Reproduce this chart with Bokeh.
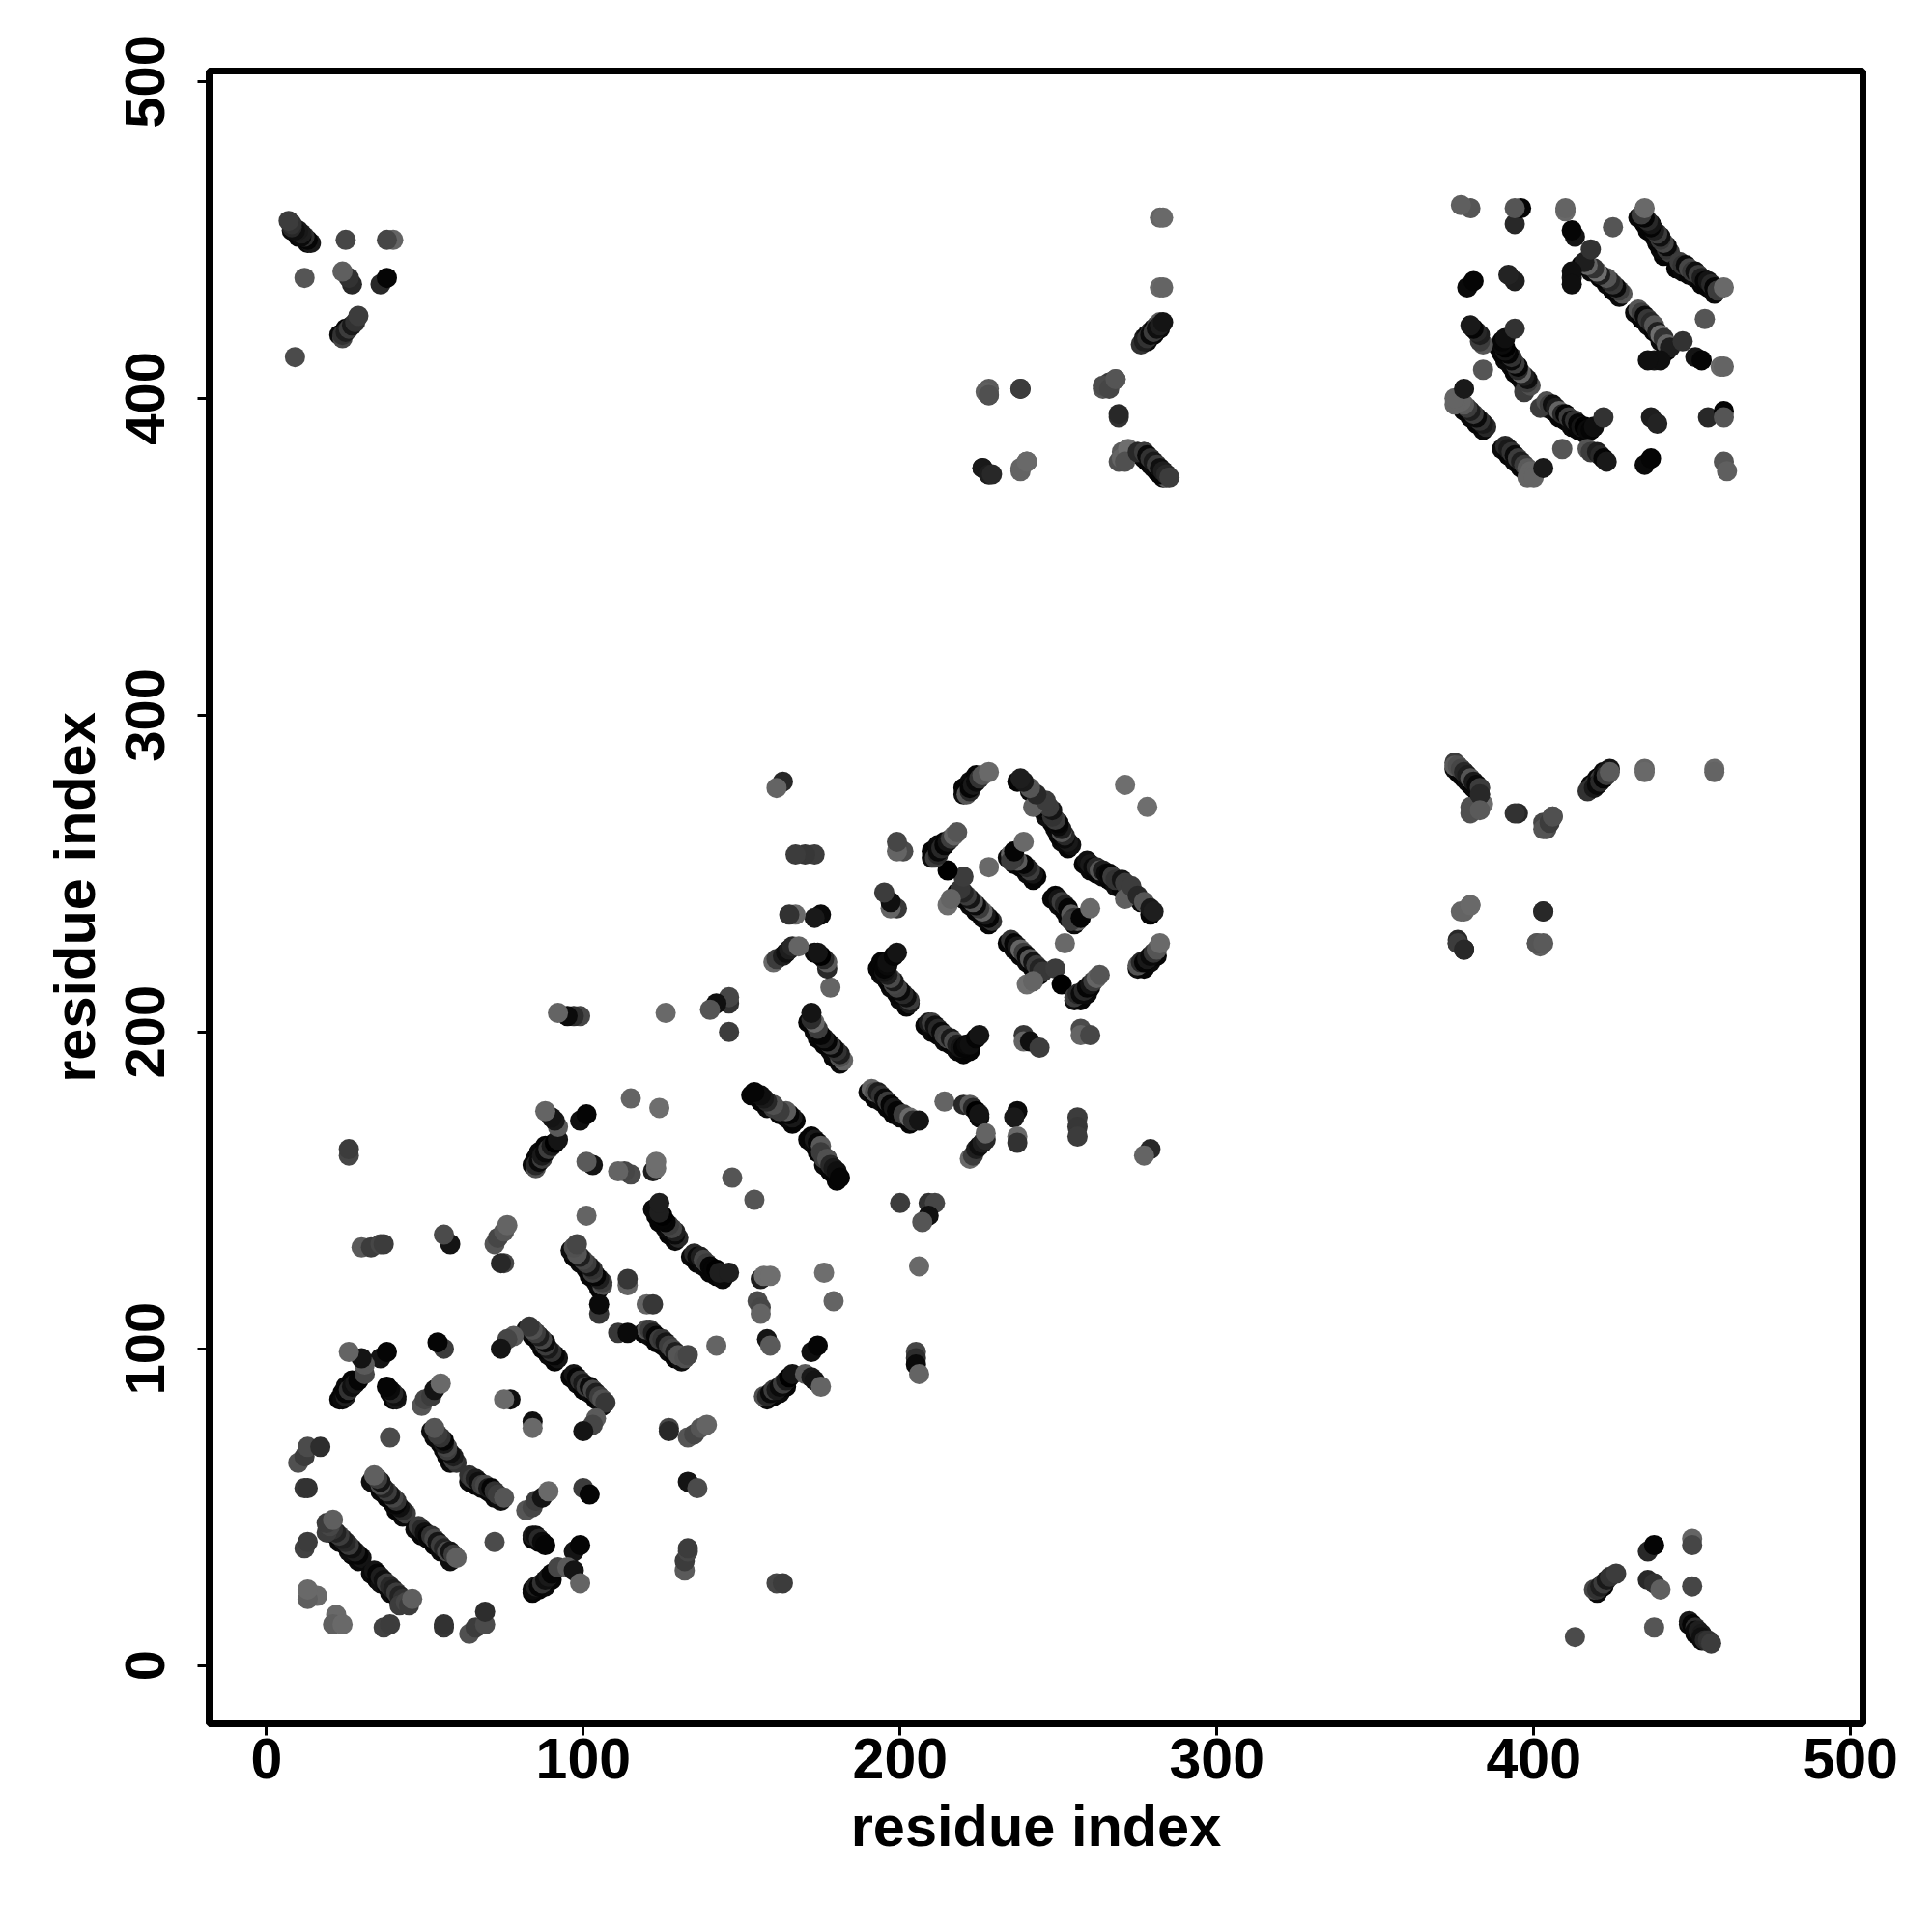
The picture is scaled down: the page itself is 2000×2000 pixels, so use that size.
from bokeh.plotting import figure
from bokeh.models import FixedTicker, Range1d
from bokeh.embed import file_html
from bokeh.resources import INLINE

tick_values = [0, 100, 200, 300, 400, 500]
axis_title = "residue index"

# contacts read from the lower triangle: (residue i, residue j, grey level)
under_rows = [
 (33,29,10),(35,27,5),(36,26,15),(38,25,5),(39,23,10),(41,22,5),(42,20,15),
 (47,43,10),(49,41,5),(51,40,10),(53,38,5),(55,36,10),(57,35,5),(58,33,15),
 (64,58,10),(66,57,5),(68,56,10),(70,55,5),(72,53,10),(74,52,15),
 (84,23,5),(86,24,5),(88,25,10),(90,27,5),(84,40,5),(86,39,5),
 (96,91,5),(98,89,10),(100,87,5),(102,86,10),(104,84,5),(106,82,15),
 (119,105,5),(121,104,10),(123,102,5),(125,101,5),(127,99,10),(129,97,5),(131,96,15),
 (134,129,10),(136,127,5),(138,126,10),(140,124,5),(142,123,5),(144,122,10),
 (158,84,10),(160,85,5),(162,86,10),(164,88,5),
 (171,166,5),(173,164,10),(174,162,5),(176,158,10),(178,156,5),(180,153,5),
 (190,181,10),(192,179,5),(194,178,10),(196,176,5),(198,174,5),(200,173,10),(203,171,5),
 (208,202,5),(210,200,10),(212,199,5),(214,197,10),(216,196,5),(218,194,10),(220,193,5),(222,194,5),
 (258,253,5),(260,251,10),(262,250,5),(264,249,10),(266,248,5),(268,246,15),(270,245,5),(272,244,20),(276,241,10),(279,237,5),
 (248,242,5),(250,240,10),(252,238,5),(253,236,5),(255,234,10),
 (234,228,5),(236,226,10),(238,224,5),(240,222,10),(242,220,5),(244,218,5),
 (255,210,15),(257,210,5),(259,212,10),(260,214,5),
 (275,220,15),(277,220,5),(279,222,10),(281,224,5),
 (432,427,10),(434,425,5),(436,423,10),(438,421,5),(440,418,10),(442,415,5),
 (445,441,5),(447,440,10),(449,439,5),(451,438,10),(453,436,5),(455,435,5),(457,433,10),
 (404,397,5),(406,396,10),(408,394,5),(410,393,5),(412,391,10),(414,390,5),(416,389,5),
 (390,384,10),(392,382,5),(394,380,10),(396,378,5),(398,376,10),
 (375,283,10),(377,281,5),(379,279,10),(381,277,5),
 (449,13,10),(451,10,5),(453,8,10),(420,23,10),(422,25,5),
 (278,418,10),(280,420,5),(282,422,10),(276,382,10),(278,380,5),(280,378,10),(282,376,5),
]
blade_a = [
 (34,30,20),(35,29,5),(36,28,30),(37,27,15),(38,26,60),(39,25,40),(40,24,30),(41,23,60),(42,22,35),(43,21,50),
 (42,19,60),(44,20,70),(45,19,60),(46,21,95),
 (48,44,60),(49,43,40),(50,42,15),(51,41,5),(52,41,50),(53,40,70),(54,39,20),(55,38,60),(56,37,35),(57,36,75),(58,36,20),(59,35,60),(60,34,95),
 (64,60,50),(65,59,60),(66,59,30),(67,58,15),(68,57,60),(69,57,70),(70,56,25),(71,56,5),(72,55,50),(73,54,60),(75,53,85),
 (82,49,85),(84,50,70),(85,52,60),(87,53,20),(89,55,105),(100,56,60),(102,54,5),
 (84,41,25),(85,41,15),(86,40,40),(87,39,10),(88,38,5),(97,36,20),(99,38,5),
 (84,24,10),(85,25,30),(86,25,5),(87,26,50),(88,27,15),(89,28,25),(90,29,5),(92,31,70),(95,31,90),(97,30,20),(99,26,100),
 (72,39,75),(64,10,80),(66,12,60),(69,13,75),(69,17,45),(56,12,55),(56,13,50),(37,12,65),(39,13,60),
 (22,16,105),(21,13,95),(24,13,105),
]
blade_b = [
 (97,92,20),(98,91,5),(99,90,50),(100,89,25),(101,88,60),(102,88,10),(103,87,70),(104,86,30),(105,85,60),(106,84,80),(107,83,55),
 (104,78,90),(103,76,70),(100,74,20),(84,77,15),(84,75,105),
 (120,106,80),(121,106,60),(122,105,30),(123,104,5),(124,103,60),(125,103,50),(126,102,20),(127,101,60),(128,100,70),(129,99,30),(130,98,85),(132,97,80),(133,98,70),
 (111,105,55),(114,105,10),(120,114,100),(122,114,55),
 (135,130,40),(136,129,10),(137,129,30),(138,128,70),(139,127,60),(140,126,5),(141,125,5),(142,125,0),(143,124,30),(146,124,30),
 (156,122,30),(157,123,110),(159,123,110),(176,124,110),(179,115,100),(206,126,105),
 (155,115,75),(156,113,70),(156,111,100),(158,103,20),(159,101,90),(142,101,100),
 (127,75,70),(127,74,40),(133,72,85),(135,73,70),(137,75,85),(139,76,100),
 (133,58,20),(136,56,75),(132,30,90),(132,33,60),(133,36,70),(133,37,60),(161,26,70),(163,26,60),
 (157,85,80),(158,85,40),(159,86,10),(160,87,60),(161,87,25),(162,88,10),(163,89,60),(164,90,25),(165,91,0),(166,92,20),
 (170,92,90),(172,91,25),(173,90,20),(175,88,100),(172,99,15),(174,101,5),
 (205,99,70),(205,97,45),(205,95,10),(206,92,100),
]
blade_c = [
 (172,167,5),(173,166,25),(174,165,5),(175,164,90),(175,162,60),(176,160,60),(177,160,80),(178,158,40),(179,157,25),(180,156,15),(181,154,5),
 (191,182,100),(192,181,80),(193,181,30),(194,180,50),(195,179,10),(196,178,60),(197,177,5),(198,176,25),(199,175,5),(201,174,60),(203,173,105),(204,172,45),(206,172,20),
 (154,147,85),(200,146,60),(209,146,50),(211,146,70),(209,142,15),(207,140,85),
 (214,178,100),(220,177,40),(222,177,90),(223,176,40),(224,175,0),(225,173,10),(225,174,20),
 (237,175,10),(236,173,25),(222,160,105),(223,161,60),(224,163,30),(225,164,15),(226,165,30),(227,166,40),(227,168,100),
 (237,167,105),(237,165,50),(256,173,60),(256,170,55),(256,167,60),(279,163,40),(277,161,100),(278,271,110),
 (209,203,25),(210,203,60),(211,202,15),(212,201,40),(213,200,10),(214,199,65),(215,198,70),(216,198,25),(217,197,75),(218,196,30),(219,195,20),(220,195,5),(221,196,10),(222,196,15),(224,198,5),(225,199,20),
 (239,199,55),(239,197,100),(241,197,15),(244,195,60),(257,201,75),(257,199,100),(260,199,70),
]
blade_d = [
 (259,254,15),(260,253,25),(261,252,10),(262,252,40),(263,251,85),(264,251,30),(265,250,10),(266,250,5),(267,249,60),(268,248,50),(270,248,20),(271,247,60),(271,242,95),(273,246,60),(275,243,40),(277,241,85),(279,239,25),(280,238,30),
 (249,243,5),(250,242,20),(251,241,60),(252,240,35),(253,239,5),(254,237,90),(255,236,50),(256,235,100),(254,235,60),(257,236,5),(260,239,105),(252,228,105),
 (235,229,50),(236,228,5),(237,227,25),(238,226,100),(239,225,60),(240,224,10),(241,223,85),(242,222,20),(243,221,60),(244,220,35),(245,219,55),(249,220,60),(251,215,0),(240,215,110),(242,216,100),
 (255,211,60),(256,212,40),(257,212,10),(258,213,40),(259,214,5),(260,215,20),(261,216,60),(262,217,100),(263,218,85),
 (275,221,85),(276,222,40),(277,222,5),(278,223,25),(279,224,10),(280,225,50),(281,226,85),(282,228,105),
]
far_mid = [
 (375,284,90),(376,284,80),(377,283,70),(378,282,40),(379,281,30),(380,280,85),(381,279,25),(382,278,10),(383,277,60),(383,275,40),(380,269,80),(383,270,90),
 (394,269,50),(403,264,85),(405,266,60),(406,268,80),(417,276,50),(419,277,25),(420,278,10),(421,279,40),(422,280,5),(423,281,60),(424,282,90),
 (435,282,105),(457,282,100),(377,238,100),(380,240,105),(403,238,40),(376,228,60),(378,226,40),(401,228,85),(403,228,90),
]
far_low = [
 (413,9,75),(419,24,70),(420,24,50),(421,25,30),(422,26,60),(423,27,25),(424,28,50),(426,29,60),
 (436,36,40),(438,38,5),(436,27,40),(438,26,50),(440,24,95),(438,12,85),(450,40,100),(450,38,70),(450,25,70),
 (449,14,25),(450,13,5),(451,12,45),(451,11,10),(452,11,30),(453,10,25),(453,9,15),(454,8,40),(455,8,50),(456,7,60),
]
far_top = [
 (433,428,85),(434,427,60),(435,426,10),(436,425,55),(437,424,40),(438,423,85),(439,421,30),(440,420,110),(441,419,50),(442,417,100),(443,416,30),(447,418,50),
 (451,413,20),(453,412,5),(459,410,105),(460,410,100),(438,412,20),(440,412,15),(436,412,15),(454,425,85),
 (446,443,60),(447,442,50),(448,442,10),(449,441,70),(450,440,55),(451,440,15),(452,439,60),(453,438,30),(454,437,5),(455,437,20),(456,436,40),(457,435,5),(458,434,60),(460,435,105),
 (402,397,60),(404,399,80),(405,398,60),(406,398,15),(407,397,30),(408,396,100),(409,395,40),(410,395,5),(411,394,60),(412,393,10),(413,393,50),(414,392,5),(415,391,20),(416,391,0),(417,390,10),(418,390,5),(419,391,15),(422,394,50),
 (409,384,85),(417,384,85),(418,383,60),(420,383,30),(421,382,40),(422,381,5),(423,380,25),(437,394,30),(439,392,35),
 (455,394,40),(460,396,5),(460,394,85),(435,379,10),(437,381,5),(460,380,85),(461,377,95),
 (391,385,40),(392,384,25),(393,383,50),(394,382,10),(395,381,60),(396,380,30),(397,379,60),(398,378,90),(399,377,100),(398,375,100),(400,375,100),(403,378,25),
]
far_corner = [
 (283,457,105),(283,435,100),(277,418,30),(278,419,50),(279,420,10),(280,421,60),(281,422,15),(282,423,30),(283,424,20),
 (264,404,75),(266,403,70),(268,406,85),(269,395,40),(227,402,95),(228,401,80),(238,403,60),(238,378,100),(240,380,105),
 (226,378,25),(228,376,30),(229,376,40),
 (270,381,100),(272,384,110),(271,380,80),(275,383,40),(277,383,60),(278,382,10),(279,381,50),(280,380,25),(281,379,60),(282,378,15),(283,377,30),(284,376,40),(285,375,60),
]

groups = [under_rows, blade_a, blade_b, blade_c, blade_d, far_mid, far_low, far_top, far_corner]
rows = [r for g in groups for r in g]
xs = [r[0] for r in rows]
ys = [r[1] for r in rows]
cs = ["#%02x%02x%02x" % (r[2], r[2], r[2]) for r in rows]

p = figure(width=1984, height=1984, frame_width=1712, frame_height=1711,
           x_range=Range1d(-18.1, 503.9), y_range=Range1d(-18.4, 503.3),
           output_backend="svg", toolbar_location=None,
           min_border_left=216, min_border_right=56, min_border_top=73, min_border_bottom=200)
p.background_fill_color = "white"
p.border_fill_color = "white"
p.grid.visible = False
p.outline_line_color = "black"
p.outline_line_width = 7

# reference is position-symmetric: i,j and j,i are both plotted
p.scatter(ys, xs, size=21, marker="circle", fill_color=cs, line_color=None)
p.scatter(xs, ys, size=21, marker="circle", fill_color=cs, line_color=None)

for ax, orient, fs in ((p.xaxis[0], "horizontal", "59px"), (p.yaxis[0], "vertical", "58px")):
    ax.ticker = FixedTicker(ticks=tick_values)
    ax.axis_line_color = None
    ax.major_tick_line_color = "black"
    ax.major_tick_line_width = 3
    ax.major_tick_in = 0
    ax.major_tick_out = 12
    ax.minor_tick_line_color = None
    ax.major_label_orientation = orient
    ax.major_label_text_font = "Liberation Sans"
    ax.major_label_text_font_style = "bold"
    ax.major_label_text_font_size = fs
    ax.major_label_text_color = "black"
    ax.axis_label = axis_title
    ax.axis_label_text_font = "Liberation Sans"
    ax.axis_label_text_font_style = "bold"
    ax.axis_label_text_font_size = "59.5px"
    ax.axis_label_text_color = "black"
p.xaxis[0].major_label_standoff = 3
p.yaxis[0].major_label_standoff = 34
p.xaxis[0].axis_label_standoff = 13
p.yaxis[0].axis_label_standoff = 17

open("out.html", "w").write(file_html(p, INLINE))
